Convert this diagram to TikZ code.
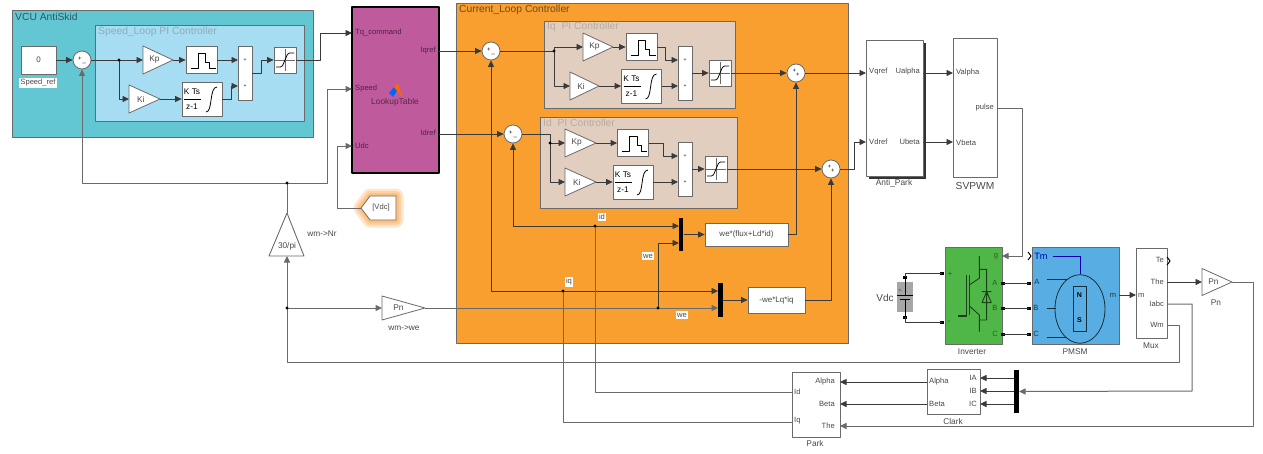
\documentclass[tikz,border=0pt]{standalone}
\usepackage{fontspec}
\setmainfont{Liberation Sans}
\usetikzlibrary{arrows.meta}
\definecolor{vcuc}{HTML}{62C6D3}
\definecolor{speedc}{HTML}{A6DDF3}
\definecolor{curc}{HTML}{F99F30}
\definecolor{pic}{HTML}{E2CEBF}
\definecolor{lutc}{HTML}{BF5A9C}
\definecolor{invc}{HTML}{4FB748}
\definecolor{pmc}{HTML}{58AEE2}
\definecolor{wirec}{HTML}{3A3A3A}
\definecolor{grayc}{HTML}{6A6A6A}
\definecolor{txtc}{HTML}{484848}
\tikzset{
	box/.style 2 args={draw=grayc,fill=white,line width=.8pt,inner sep=0pt,minimum width=#1,minimum height=#2,text=txtc},
	region/.style={draw=grayc,line width=.7pt},
	titlelbl/.style={anchor=west,inner sep=0pt,font=\fontsize{10.3}{11}\selectfont},
	lbl/.style={inner sep=0pt,text=txtc,font=\fontsize{7.6}{9}\selectfont},
	caplbl/.style={inner sep=1pt,text=txtc,font=\fontsize{8.3}{9}\selectfont},
	tagbox/.style={fill=white,inner sep=1.5pt,text=txtc,font=\fontsize{7.6}{9}\selectfont},
	wire/.style={draw=wirec,line width=.8pt},
	graywire/.style={draw=grayc,line width=1pt},
	sumblk/.style={circle,draw=grayc,fill=white,line width=.8pt,minimum size=18pt,inner sep=0pt,font=\fontsize{6}{6}\selectfont,text=black},
	muxbar/.style={fill=black,inner sep=0pt,minimum width=4.6pt,minimum height=#1},
}
% triangle gain: name, left x, mid y, half height, length, text
\newcommand{\gainblk}[6]{
	\draw[draw=grayc,fill=white,line width=.8pt] (#2,#3-#4)--(#2+#5,#3)--(#2,#3+#4)--cycle;
	\coordinate (#1-in) at (#2,#3);
	\coordinate (#1-out) at (#2+#5,#3);
	\node[caplbl] (#1) at (#2+#5*0.38,#3) {#6};
}
% rate block: name, x, y
\newcommand{\rateblk}[3]{
	\node[box={31pt}{27pt}] (#1) at (#2,#3) {};
	\draw[black,line width=.8pt] (#1.center) ++(-11,8)--++(7.5,0)--++(0,-15)--++(7.5,0)--++(0,9)--++(4,0)--++(0,6)--++(6,0);
}
% discrete integrator: name, x, y
\newcommand{\intblk}[3]{
	\node[box={40pt}{34pt}] (#1) at (#2,#3) {};
	\node[caplbl,text=black] (#1-num) at (#2-10,#3-7) {K Ts};
	\node[caplbl,text=black] (#1-den) at (#2-10,#3+8) {z-1};
	\draw[black,line width=.6pt] (#2-18,#3)--(#2-1,#3);
	\draw[black,line width=.8pt] (#2+4,#3+13) .. controls (#2+11,#3+13) and (#2+7,#3-12) .. (#2+15,#3-12);
}
% saturation: name, x, y
\newcommand{\satblk}[3]{
	\node[box={22pt}{26pt}] (#1) at (#2,#3) {};
	\draw[grayc,line width=.4pt] (#2,#3-11)--(#2,#3+11) (#2-10,#3)--(#2+10,#3);
	\draw[black,line width=.8pt,rounded corners=1.5pt] (#2-9,#3+7)--(#2-3,#3+7)--(#2+3,#3-7)--(#2+9,#3-7);
}
% adder: name, x, y
\newcommand{\addblk}[3]{
	\node[box={14pt}{54pt}] (#1) at (#2,#3) {};
	\coordinate (#1-a) at (#2-7,#3-13);
	\coordinate (#1-b) at (#2-7,#3+13);
	\node[inner sep=0pt,font=\tiny] (#1-pa) at (#2,#3-13) {+};
	\node[inner sep=0pt,font=\tiny] (#1-pb) at (#2,#3+13) {+};
}
\begin{document}
\begin{tikzpicture}[x=1pt,y=-1pt,>={Triangle[length=6.5pt,width=6pt]},line join=round,font=\fontsize{8}{9}\selectfont]
	\useasboundingbox (0,0) rectangle (1263,453);
	% vung nen
	\node[region,fill=vcuc,minimum width=301pt,minimum height=127pt] (vcu) at (162.5,73.5) {};
	\node[region,fill=speedc,minimum width=209pt,minimum height=96pt] (speedbox) at (199.5,73) {};
	\node[region,fill=curc,minimum width=392pt,minimum height=340pt] (cur) at (652,173) {};
	\node[region,fill=pic,minimum width=191pt,minimum height=87pt] (iqbox) at (639.5,64.5) {};
	\node[region,fill=pic,minimum width=197pt,minimum height=91pt] (idbox) at (638.5,162.5) {};
	\node[titlelbl,text=vcuc!45!black] (vcuT) at (15,17) {VCU AntiSkid};
	\node[titlelbl,text=speedc!45!gray] (speedT) at (98,32) {Speed\_Loop PI Controller};
	\node[titlelbl,text=curc!45!black] (curT) at (459,10) {Current\_Loop Controller};
	\node[titlelbl,text=pic!55!gray] (iqT) at (547,27) {Iq\ \ PI Controller};
	\node[titlelbl,text=pic!55!gray] (idT) at (543,123) {Id\ \ PI Controller};
	% vong toc do
	\node[box={35pt}{28pt}] (constS) at (38.5,60) {0};
	\node[tagbox] (constT) at (38,83) {Speed\_ref};
	\node[sumblk] (sumS) at (82,60) {\raisebox{1pt}{+}\,\raisebox{-1pt}{\_}};
	\gainblk{gSP}{143}{60}{14}{30}{Kp}
	\gainblk{gSI}{129}{99}{14}{31}{Ki}
	\rateblk{rateS}{201.5}{60}
	\intblk{intS}{202}{99}
	\addblk{addS}{245}{73}
	\satblk{satS}{285}{60}
	% bang tra
	\node[draw=black,fill=lutc,line width=1.2pt,minimum width=87pt,minimum height=166pt] (lut) at (395.5,90) {};
	\fill[blue!60!cyan] (389,93)--(394,87)--(397,91)--(393,97)--cycle;
	\fill[orange!80!red] (394,87)--(398,83)--(402,97)--(397,91)--cycle;
	\node[lbl,text=lutc!45!black,font=\fontsize{8.4}{9}\selectfont] (lutT) at (395,102) {LookupTable};
	\path
	(352,33) coordinate (lutTq)
	(352,89) coordinate (lutSp)
	(352,146) coordinate (lutDc)
	(439,51) coordinate (lutIq)
	(439,134) coordinate (lutId);
	\node[lbl,anchor=west,text=lutc!40!black] (lutTqT) at (355,33) {Tq\_command};
	\node[lbl,anchor=west,text=lutc!40!black] (lutSpT) at (355,89) {Speed};
	\node[lbl,anchor=west,text=lutc!40!black] (lutDcT) at (355,146) {Udc};
	\node[lbl,anchor=east,text=lutc!40!black] (lutIqT) at (436,51) {Iqref};
	\node[lbl,anchor=east,text=lutc!40!black] (lutIdT) at (436,133) {Idref};
	% nhan Vdc
	\foreach \w in {15,10,6}
	\draw[orange,opacity=.2,line width=\w pt] (361,208)--(370,196)--(396,196)--(396,220)--(370,220)--cycle;
	\draw[draw=grayc,fill=white,line width=.8pt] (361,208)--(370,196)--(396,196)--(396,220)--(370,220)--cycle;
	\coordinate (gotoV) at (361,208);
	\node[lbl] (gotoT) at (381,208) {[Vdc]};
	% vong dong dien
	\node[sumblk] (sumQ) at (491,51) {\raisebox{1pt}{+}\,\raisebox{-1pt}{\_}};
	\node[sumblk] (sumD) at (513,134) {\raisebox{1pt}{+}\,\raisebox{-1pt}{\_}};
	\gainblk{gQP}{583}{47}{14}{30}{Kp}
	\gainblk{gQI}{570}{86}{14}{29}{Ki}
	\rateblk{rateQ}{641.5}{47}
	\intblk{intQ}{641.5}{86}
	\addblk{addQ}{685}{73}
	\satblk{satQ}{720}{73}
	\gainblk{gDP}{565}{143}{14}{31}{Kp}
	\gainblk{gDI}{565}{182}{14}{31}{Ki}
	\rateblk{rateD}{633}{143}
	\intblk{intD}{633}{182}
	\addblk{addD}{685}{169}
	\satblk{satD}{716}{169}
	\node[sumblk] (sumP) at (796,73) {\raisebox{2pt}{+}\raisebox{-2pt}{+}};
	\node[sumblk] (sumV) at (831,169) {\raisebox{2pt}{+}\raisebox{-2pt}{+}};
	\node[muxbar=33pt] (mux1) at (681,234.5) {};
	\node[muxbar=34pt] (mux2) at (720.5,300) {};
	\node[box={83pt}{23pt}] (fluxB) at (746.5,234.5) {we*(flux+Ld*id)};
	\node[box={57pt}{26pt}] (lqB) at (776.5,300) {-we*Lq*iq};
	\path
	(554,51) coordinate (jQ)
	(550,143) coordinate (jD)
	(595,226) coordinate (jId)
	(563,291) coordinate (jIq)
	(658,308) coordinate (jWe)
	(119,60) coordinate (jS)
	(287,183) coordinate (jFb)
	(287,308) coordinate (jWm)
	(679,226) coordinate (mux1a)
	(679,243) coordinate (mux1b)
	(718,291) coordinate (mux2a)
	(718,308) coordinate (mux2b);
	% khoi Anti_Park va SVPWM
	\fill[black!80] (868.5,42.5) rectangle (925.5,178.5);
	\node[box={57pt}{136pt}] (apark) at (894.5,108) {};
	\node[box={44pt}{139pt}] (svpwm) at (975,107.5) {};
	\path
	(866,73) coordinate (apVq)
	(866,142) coordinate (apVd)
	(923,73) coordinate (apUa)
	(923,142) coordinate (apUb)
	(953,73) coordinate (svVa)
	(953,142) coordinate (svVb)
	(997,108) coordinate (svP);
	\node[lbl,anchor=west] (apVqT) at (869,72) {Vqref};
	\node[lbl,anchor=west] (apVdT) at (869,142) {Vdref};
	\node[lbl,anchor=east] (apUaT) at (920,72) {Ualpha};
	\node[lbl,anchor=east] (apUbT) at (920,142) {Ubeta};
	\node[lbl,anchor=west] (svVaT) at (956,73) {Valpha};
	\node[lbl,anchor=west] (svVbT) at (956,143) {Vbeta};
	\node[lbl,anchor=east] (svPT) at (994,108) {pulse};
	\node[caplbl,font=\fontsize{8.4}{9}\selectfont] (aparkT) at (894,183) {Anti\_Park};
	\node[caplbl,font=\fontsize{10.2}{11}\selectfont] (svpwmT) at (975,186) {SVPWM};
	% khoi cong suat
	\node[region,fill=invc,minimum width=57pt,minimum height=97pt] (inv) at (973.5,295.5) {};
	\node[region,fill=pmc,minimum width=87pt,minimum height=97pt] (pmsm) at (1075.5,295.5) {};
	\node[box={31pt}{90pt}] (muxo) at (1151.5,293) {};
	\path
	(1002,256) coordinate (invG)
	(1003,283) coordinate (invA)
	(1003,308) coordinate (invB)
	(1003,334) coordinate (invC)
	(942,273) coordinate (invP)
	(942,322) coordinate (invN)
	(1029,283) coordinate (pmA)
	(1029,308) coordinate (pmB)
	(1029,334) coordinate (pmC)
	(1119,295) coordinate (pmM)
	(1136,295) coordinate (muxM)
	(1167,282) coordinate (muxThe)
	(1167,304) coordinate (muxAbc)
	(1167,325) coordinate (muxWm)
	(905,277) coordinate (batT)
	(905,317) coordinate (batB);
	\fill[gray!70] (897,282) rectangle (913,312);
	\draw[black,line width=.8pt] (batT)--(905,295) (897,295)--(913,295) (900,299)--(910,299) (905,299)--(batB);
	\foreach \p in {invP,invN,invA,invB,invC,pmA,pmB,pmC,batT,batB}
	\fill[black] (\p) +(-2,-1.5) rectangle +(2,1.5);
	\node[caplbl,inner sep=0pt,font=\fontsize{6}{7}\selectfont] (batS) at (900,291) {+};
	\node[lbl,font=\fontsize{10}{11}\selectfont] (vdcT) at (885,298) {Vdc};
	\node[lbl,text=invc!50!black] (invPT) at (950,274) {+};
	\node[lbl,text=invc!50!black] (invNT) at (949,322) {-};
	\node[lbl,text=invc!50!black] (invGT) at (996,256) {g};
	\node[lbl,text=invc!50!black] (invAT) at (995,283) {A};
	\node[lbl,text=invc!50!black] (invBT) at (995,308) {B};
	\node[lbl,text=invc!50!black] (invCT) at (995,334) {C};
	\begin{scope}[shift={(850,20)},x=.3333pt,y=-.3333pt]
		% ky hieu IGBT
		\draw[invc!35!black,line width=.9pt] (388,708)--(388,748)--(410,748)--(410,900)--(388,900)--(388,935)
		(388,748)--(388,775)--(358,795) (358,858)--(388,885)--(388,900)
		(396,848)--(424,848)--(410,815)--cycle (396,815)--(424,815);
		\draw[invc!35!black,line width=1.2pt] (358,765)--(358,885) (349,765)--(349,888)--(325,888);
	\end{scope}
	\node[lbl,text=blue!70!black,font=\fontsize{9.2}{11}\selectfont] (pmTm) at (1041,256) {Tm};
	\node[lbl,text=pmc!30!black] (pmAT) at (1037,282) {A};
	\node[lbl,text=pmc!30!black] (pmBT) at (1036,308) {B};
	\node[lbl,text=pmc!30!black] (pmCT) at (1036,334) {C};
	\node[lbl,text=pmc!30!black] (pmMT) at (1113,295) {m};
	\begin{scope}[shift={(850,20)},x=.3333pt,y=-.3333pt]
		% dong co
		\draw[blue!70!black,line width=.8pt] (608,708)--(690,708)--(690,763);
		\draw[pmc!25!black,line width=.8pt] (590,777)--(652,777) (590,865)--(617,865) (590,952)--(652,952);
		\draw[pmc!25!black,line width=.8pt] (690,867) ellipse [x radius=25pt,y radius=34.3pt];
		\draw[pmc!25!black,line width=.8pt] (670,800) rectangle (710,935);
	\end{scope}
	\node[inner sep=0pt,text=black,font=\fontsize{7}{8}\selectfont\bfseries] (pmN) at (1079.5,295) {N};
	\node[inner sep=0pt,text=black,font=\fontsize{7}{8}\selectfont\bfseries] (pmS) at (1079.5,320) {S};
	\node[lbl,anchor=east] (muxTeT) at (1164,260) {Te};
	\node[lbl,anchor=east] (muxTheT) at (1164,282) {The};
	\node[lbl,anchor=east] (muxAbcT) at (1164,304) {Iabc};
	\node[lbl,anchor=east] (muxWmT) at (1164,325) {Wm};
	\node[lbl,anchor=west] (muxMT) at (1138,295) {m};
	\draw[black,line width=1pt] (1167,257)--(1170,261)--(1167,265) (1028,252)--(1031,256)--(1028,260);
	\node[caplbl] (invT) at (972,352) {Inverter};
	\node[caplbl] (pmsmT) at (1075,352) {PMSM};
	\node[caplbl] (muxT) at (1151,346) {Mux};
	\gainblk{gOut}{1202}{282}{13.5}{30}{Pn}
	\node[caplbl] (gOutT) at (1216,303) {Pn};
	% Park, Clark
	\node[box={48pt}{65pt}] (park) at (816,404.5) {};
	\node[box={53pt}{45pt}] (clark) at (953.5,391.5) {};
	\node[muxbar=43pt] (mux3) at (1016.5,391.5) {};
	\path
	(792,392) coordinate (parkId)
	(792,422) coordinate (parkIq)
	(840,382) coordinate (parkA)
	(840,404) coordinate (parkB)
	(840,426) coordinate (parkThe)
	(927,382) coordinate (clarkA)
	(927,404) coordinate (clarkB)
	(980,378) coordinate (clarkIa)
	(980,391) coordinate (clarkIb)
	(980,404) coordinate (clarkIc)
	(1014,378) coordinate (mux3a)
	(1014,391) coordinate (mux3b)
	(1014,404) coordinate (mux3c);
	\node[lbl,anchor=west] (parkIdT) at (794,392) {Id};
	\node[lbl,anchor=west] (parkIqT) at (794,421) {Iq};
	\node[lbl,anchor=east] (parkAT) at (835,382) {Alpha};
	\node[lbl,anchor=east] (parkBT) at (835,404) {Beta};
	\node[lbl,anchor=east] (parkTheT) at (835,426) {The};
	\node[lbl,anchor=west] (clarkAT) at (929,382) {Alpha};
	\node[lbl,anchor=west] (clarkBT) at (929,404) {Beta};
	\node[lbl,anchor=east] (clarkIaT) at (977,378) {IA};
	\node[lbl,anchor=east] (clarkIbT) at (977,391) {IB};
	\node[lbl,anchor=east] (clarkIcT) at (977,404) {IC};
	\node[caplbl] (parkT) at (815,444) {Park};
	\node[caplbl] (clarkT) at (953,422) {Clark};
	% khoi 30/pi, Pn
	\draw[draw=grayc,fill=white,line width=.9pt] (287,213)--(304,256)--(269,256)--cycle;
	\coordinate (gNr-in) at (287,256);
	\coordinate (gNr-out) at (287,213);
	\node[caplbl] (gNr) at (287,246) {30/pi};
	\node[caplbl] (gNrT) at (322,234) {wm->Nr};
	\gainblk{gWe}{382}{308}{12}{43}{Pn}
	\node[caplbl] (gWeT) at (404,328) {wm->we};
	% day noi
	\draw[wire,->] (constS.east)--(sumS.west);
	\draw[wire] (sumS.east)--(jS);
	\draw[wire,->] (jS)--(gSP-in);
	\draw[wire,->] (jS)|-(gSI-in);
	\draw[wire,->] (gSP-out)--(rateS.west);
	\draw[wire,->] (gSI-out)--(intS.west);
	\draw[wire,->] (rateS.east)--(addS-a);
	\draw[wire,->] (intS.east)-|(231,86)--(addS-b);
	\draw[wire,->] (addS.east)--(261,73)--(261,60)--(satS.west);
	\draw[wire,->] (satS.east)--(320,60)--(320,33)--(lutTq);
	\draw[graywire,->] (jFb)-|(sumS.south);
	\draw[graywire,->] (jFb)--(327,183)--(327,89)--(lutSp);
	\draw[graywire] (gNr-out)--(jFb);
	\draw[graywire,->] (gotoV)--(337,208)--(337,146)--(lutDc);
	\draw[graywire,->] (jWm)--(gNr-in);
	\draw[graywire,->] (jWm)--(gWe-in);
	\draw[graywire] (jWm)--(287,362)--(1179,362)--(1179,325)--(muxWm);
	\draw[wire,->] (lutIq)--(sumQ.west);
	\draw[wire,->] (lutId)--(sumD.west);
	\draw[wire] (sumQ.east)--(jQ);
	\draw[wire,->] (jQ)|-(gQP-in);
	\draw[wire,->] (jQ)|-(gQI-in);
	\draw[wire,->] (gQP-out)--(rateQ.west);
	\draw[wire,->] (gQI-out)--(intQ.west);
	\draw[wire,->] (rateQ.east)--(665,47)--(665,60)--(addQ-a);
	\draw[wire,->] (intQ.east)--(addQ-b);
	\draw[wire,->] (addQ.east)--(satQ.west);
	\draw[wire,->] (satQ.east)--(sumP.west);
	\draw[wire] (sumD.east)-|(jD);
	\draw[wire,->] (jD)--(gDP-in);
	\draw[wire,->] (jD)|-(gDI-in);
	\draw[wire,->] (gDP-out)--(rateD.west);
	\draw[wire,->] (gDI-out)--(intD.west);
	\draw[wire,->] (rateD.east)--(663,143)--(663,156)--(addD-a);
	\draw[wire,->] (intD.east)--(addD-b);
	\draw[wire,->] (addD.east)--(satD.west);
	\draw[wire,->] (satD.east)--(sumV.west);
	\draw[wire,->] (jId)-|(sumD.south);
	\draw[wire,->] (jId)--(mux1a);
	\draw[wire,->] (jIq)-|(sumQ.south);
	\draw[wire,->] (jIq)--(mux2a);
	\draw[graywire] (parkId)-|(jId);
	\draw[graywire] (parkIq)-|(jIq);
	\draw[wire,->] (mux1.east)--(fluxB.west);
	\draw[wire,->] (mux2.east)--(lqB.west);
	\draw[wire,->] (fluxB.east)-|(sumP.south);
	\draw[wire,->] (lqB.east)-|(sumV.south);
	\draw[graywire,->] (gWe-out)--(mux2b);
	\draw[wire,->] (jWe)|-(mux1b);
	\draw[wire,->] (sumP.east)--(apVq);
	\draw[wire,->] (sumV.east)--(854,169)--(854,142)--(apVd);
	\draw[wire,->] (apUa)--(svVa);
	\draw[wire,->] (apUb)--(svVb);
	\draw[graywire,->] (svP)--(1022,108)--(1022,256)--(invG);
	\draw[wire] (invA)--(pmA) (invB)--(pmB) (invC)--(pmC);
	\draw[wire] (invP)-|(batT) (invN)-|(batB);
	\draw[wire,->] (pmM)--(muxM);
	\draw[wire,->] (muxThe)--(gOut-in);
	\draw[graywire,->] (gOut-out)--(1253,282)--(1253,426)--(parkThe);
	\draw[graywire,->] (muxAbc)--(1192,304)--(1192,391)--(mux3.east);
	\draw[wire,->] (mux3a)--(clarkIa);
	\draw[wire,->] (mux3b)--(clarkIb);
	\draw[wire,->] (mux3c)--(clarkIc);
	\draw[wire,->] (clarkA)--(parkA);
	\draw[wire,->] (clarkB)--(parkB);
	% cham re nhanh
	\foreach \p in {jS,jQ,jD,jId,jIq,jWe,jFb,jWm}
	\fill[black] (\p) circle(1.7pt);
	% nhan tin hieu
	\node[tagbox] (idT2) at (602,217) {id};
	\node[tagbox] (iqT2) at (569,282) {iq};
	\node[tagbox] (weT1) at (648,256) {we};
	\node[tagbox] (weT2) at (682,315) {we};
\end{tikzpicture}
\end{document}
